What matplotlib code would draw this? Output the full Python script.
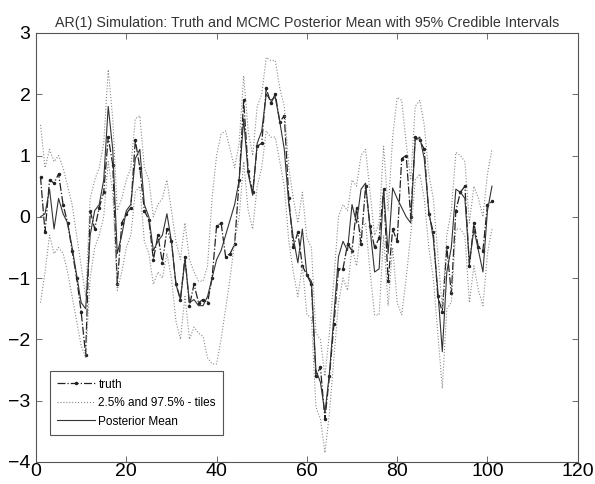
import numpy as np
import matplotlib
matplotlib.use("Agg")
import matplotlib.pyplot as plt

plt.rcParams['font.family'] = ['Liberation Sans', 'DejaVu Sans']

# time index 1..101
t = np.arange(1, 102)

# simulated AR(1) truth
truth = [0.65, -0.25, 0.6, 0.55, 0.7, 0.2, -0.1, -0.55, -1.0, -1.55,
         -2.25, 0.1, -0.2, 0.15, 0.4, 1.3, 0.85, -1.1, -0.1, 0.05,
         0.15, 1.25, 0.8, 0.1, -0.05, -0.7, -0.3, -0.75, -0.2, -0.4,
         -1.1, -1.35, -0.65, -1.45, -1.1, -1.4, -1.35, -1.4, -1.0, -0.15,
         -0.1, -0.65, -0.6, -0.45, 0.6, 1.9, 0.75, 0.4, 1.15, 1.2,
         2.1, 1.85, 2.0, 1.55, 1.65, 0.3, -0.5, -0.25, -0.8, -0.95,
         -1.1, -2.6, -2.45, -3.3, -2.6, -1.75, -0.85, -0.85, -0.45, -0.55,
         0.15, -0.45, 0.5, -0.15, -0.5, -0.35, 0.45, -1.05, -0.2, -0.4,
         0.95, 1.0, 0.0, 1.3, 1.25, 1.1, 0.05, -0.25, -1.3, -1.55,
         -0.5, -1.25, 0.1, 0.4, 0.5, -0.8, -0.1, -0.5, -0.55, 0.2,
         0.25]

# MCMC posterior mean
post_mean = [0.0, 0.05, 0.45, -0.2, 0.3, 0.05, -0.1, -0.5, -0.95, -1.4,
             -1.5, -0.3, 0.1, 0.2, 0.6, 1.8, 1.1, -0.6, -0.3, 0.1,
             0.2, 0.95, 1.1, 0.2, 0.0, -0.55, -0.4, -0.3, 0.05, -0.4,
             -1.1, -1.35, -0.7, -1.4, -1.35, -1.45, -1.45, -1.3, -1.0, -0.7,
             -0.55, -0.3, -0.05, 0.2, 0.6, 1.6, 0.7, 0.35, 1.2, 1.4,
             2.0, 1.9, 1.95, 1.55, 1.1, 0.2, -0.35, -0.75, -0.2, -0.95,
             -1.05, -2.5, -2.7, -3.2, -2.55, -1.6, -0.65, -0.4, -0.55, 0.2,
             -0.1, 0.45, 0.55, -0.2, -0.9, -0.85, 0.45, -0.6, 0.47, 0.3,
             0.15, 0.0, -0.1, 1.25, 1.3, 0.95, 0.1, -0.35, -1.2, -2.2,
             -0.9, -0.5, 0.45, 0.4, 0.3, -0.75, -0.2, -0.55, -0.9, 0.1,
             0.5]

# 97.5% posterior quantile
upper = [1.5, 0.8, 1.1, 0.9, 1.0, 0.8, 0.5, 0.2, -0.3, -0.8,
         -1.3, 0.3, 0.6, 0.8, 1.2, 2.4, 1.6, 0.1, 0.3, 0.6,
         0.8, 1.6, 1.65, 0.8, 0.6, 0.0, 0.2, 0.3, 0.6, 0.1,
         -0.4, -0.7, -0.1, -0.7, -0.9, -1.05, -1.05, -0.8, 0.3, 1.0,
         1.35, 1.4, 1.1, 0.8, 1.2, 2.3, 1.4, 1.0, 1.8, 2.0,
         2.6, 2.55, 2.55, 2.1, 1.8, 0.8, 0.3, -0.1, 0.4, -0.35,
         -0.5, -1.9, -2.0, -2.6, -1.9, -1.0, 0.0, 0.2, 0.1, 0.6,
         0.5, 1.0, 1.1, 0.4, -0.3, -0.1, 1.15, 0.1, 1.3, 1.95,
         1.9, 1.2, 0.6, 1.8, 1.9, 1.5, 0.7, 0.3, -0.6, -1.5,
         -0.3, 0.1, 1.05, 1.0, 0.9, -0.1, 0.5, 0.3, 0.0, 0.7,
         1.1]

# 2.5% posterior quantile
lower = [-1.4, -0.9, -0.3, -0.6, -0.5, -0.6, -0.9, -1.3, -1.7, -2.1,
         -2.3, -1.0, -0.5, -0.3, 0.0, 0.9, 0.4, -1.2, -0.9, -0.5,
         -0.3, 0.4, 0.5, -0.4, -0.6, -1.1, -0.9, -1.0, -0.6, -1.0,
         -1.7, -2.0, -1.3, -2.0, -1.8, -1.9, -1.95, -2.3, -2.4, -2.4,
         -2.0, -1.5, -1.0, -0.4, 0.0, 0.9, 0.1, -0.2, 0.5, 0.8,
         1.4, 1.3, 1.3, 0.9, 0.5, -0.4, -0.9, -1.3, -0.8, -1.6,
         -1.65, -3.1, -3.3, -3.85, -3.2, -2.3, -1.4, -1.0, -1.2, -0.5,
         -0.8, -0.2, -0.1, -0.9, -1.6, -1.6, -0.3, -1.45, -0.5, -1.4,
         -1.6, -1.0, -0.3, 0.6, 0.7, 0.3, -0.5, -1.0, -1.9, -2.8,
         -1.5, -1.4, -0.2, -0.2, -0.3, -1.4, -0.8, -1.2, -1.45, -0.6,
         -0.2]

fig = plt.figure(figsize=(5.95, 4.84), dpi=100)
ax = fig.add_axes([0.0605, 0.0455, 0.9105, 0.8865])

h1, = ax.plot(t, truth, '-.', color='#222222', lw=0.9, marker='.', ms=3,
              label='truth')
h2, = ax.plot(t, upper, ':', color='#888888', lw=0.8,
              label='2.5% and 97.5% - tiles')
ax.plot(t, lower, ':', color='#888888', lw=0.8)
h3, = ax.plot(t, post_mean, '-', color='#333333', lw=0.8,
              label='Posterior Mean')

ax.set_xlim(0, 120)
ax.set_ylim(-4, 3)
ax.set_xticks(np.arange(0, 121, 20))
ax.set_yticks(np.arange(-4, 4, 1))
ax.tick_params(direction='in', top=True, right=True, labelsize=14,
               length=4, width=0.6, color='#555555')
ax.tick_params(axis='x', pad=1)
ax.tick_params(axis='y', pad=4)
for sp in ax.spines.values():
    sp.set_color('#555555')
    sp.set_linewidth(0.8)

ax.set_title('AR(1) Simulation: Truth and MCMC Posterior Mean with 95% Credible Intervals',
             fontsize=10.3, color='#333333', pad=4)

leg = ax.legend(handles=[h1, h2, h3], loc='lower left',
                bbox_to_anchor=(0.015, 0.05), fontsize=8.5, handlelength=3.2,
                fancybox=False, framealpha=1, edgecolor='#555555',
                borderpad=0.6, labelspacing=0.55, handletextpad=0.3)
leg.get_frame().set_linewidth(0.8)

fig.savefig('out.png', dpi=100)
